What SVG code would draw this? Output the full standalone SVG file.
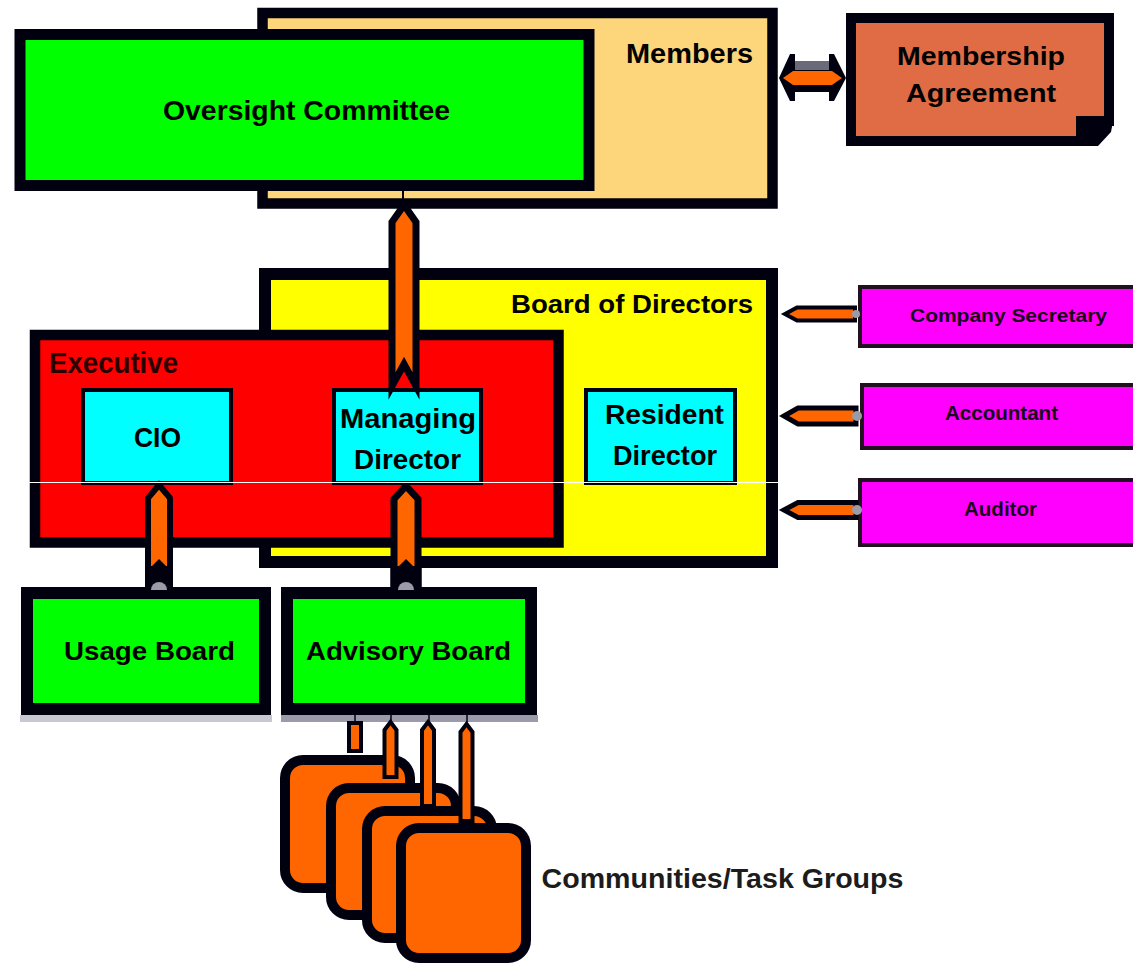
<svg xmlns="http://www.w3.org/2000/svg" width="1133" height="968" viewBox="0 0 1133 968">
<style>
  .bx { stroke: #00000f; stroke-linejoin: miter; }
  .t { font-family: 'Liberation Sans', Arial, sans-serif; font-weight: bold; fill: #000; }
  .arr { fill: #ff6600; stroke: #00000f; stroke-linejoin: miter; stroke-miterlimit: 10; }
  .knob { fill: #9a9aa8; }
  .blk { fill: #00000f; }
</style>
<rect x="0" y="0" width="1133" height="968" fill="#ffffff"/>

<g id="members">
  <rect class="bx" x="262.5" y="13" width="510" height="190.5" fill="#fdd57b" stroke-width="10.5"/>
  <text class="t" x="689.5" y="63" font-size="28" text-anchor="middle" textLength="127" lengthAdjust="spacingAndGlyphs">Members</text>
</g>

<g id="oversight">
  <rect class="bx" x="20" y="34.5" width="569" height="151" fill="#00ff00" stroke-width="11"/>
  <text class="t" x="306.5" y="120" font-size="28" text-anchor="middle" textLength="287" lengthAdjust="spacingAndGlyphs">Oversight Committee</text>
</g>

<g id="membership-agreement">
  <path class="bx" d="M851,18 H1109 V121 H1081 V141 H851 Z" fill="#e06c45" stroke-width="10"/>
  <path class="blk" d="M1078,116 H1114 L1111,132 L1098,146 H1078 Z"/>
  <text class="t" x="981" y="65" font-size="25" text-anchor="middle" textLength="168" lengthAdjust="spacingAndGlyphs">Membership</text>
  <text class="t" x="981" y="102" font-size="25" text-anchor="middle" textLength="150" lengthAdjust="spacingAndGlyphs">Agreement</text>
</g>

<g id="board">
  <rect class="bx" x="265" y="274" width="507" height="288" fill="#ffff00" stroke-width="12"/>
  <text class="t" x="632" y="313" font-size="25" text-anchor="middle" textLength="242" lengthAdjust="spacingAndGlyphs">Board of Directors</text>
</g>

<g id="executive">
  <rect class="bx" x="35" y="335" width="523.5" height="207.5" fill="#ff0000" stroke-width="10.5"/>
  <text class="t" x="49" y="373" font-size="29" fill="#2a0000" textLength="129" lengthAdjust="spacingAndGlyphs" style="fill:#2a0000">Executive</text>
</g>

<g id="cio">
  <rect class="bx" x="83" y="390" width="148" height="93" fill="#00ffff" stroke-width="4"/>
  <text class="t" x="157.5" y="447" font-size="28" text-anchor="middle" textLength="47" lengthAdjust="spacingAndGlyphs">CIO</text>
</g>

<g id="managing-director">
  <rect class="bx" x="334" y="390" width="147" height="93" fill="#00ffff" stroke-width="4"/>
  <text class="t" x="408" y="428" font-size="28" text-anchor="middle" textLength="136" lengthAdjust="spacingAndGlyphs">Managing</text>
  <text class="t" x="407.5" y="469" font-size="28" text-anchor="middle" textLength="107" lengthAdjust="spacingAndGlyphs">Director</text>
</g>

<g id="resident-director">
  <rect class="bx" x="586" y="390" width="149" height="93" fill="#00ffff" stroke-width="4"/>
  <text class="t" x="664.5" y="424" font-size="27" text-anchor="middle" textLength="119" lengthAdjust="spacingAndGlyphs">Resident</text>
  <text class="t" x="665" y="465" font-size="27" text-anchor="middle" textLength="104" lengthAdjust="spacingAndGlyphs">Director</text>
</g>

<g id="company-secretary">
  <rect class="bx" x="860" y="287" width="290" height="59" fill="#ff00ff" stroke-width="4" style="stroke:#201020"/>
  <text class="t" x="1008.5" y="322" font-size="18" text-anchor="middle" textLength="197" lengthAdjust="spacingAndGlyphs" style="fill:#1a001a">Company Secretary</text>
</g>

<g id="accountant">
  <rect class="bx" x="862" y="385" width="290" height="63" fill="#ff00ff" stroke-width="4" style="stroke:#201020"/>
  <text class="t" x="1001.5" y="420" font-size="21" text-anchor="middle" textLength="113" lengthAdjust="spacingAndGlyphs" style="fill:#1a001a">Accountant</text>
</g>

<g id="auditor">
  <rect class="bx" x="860" y="480" width="290" height="65" fill="#ff00ff" stroke-width="4" style="stroke:#201020"/>
  <text class="t" x="1000.5" y="516" font-size="21" text-anchor="middle" textLength="73" lengthAdjust="spacingAndGlyphs" style="fill:#1a001a">Auditor</text>
</g>

<g id="usage-board">
  <rect x="20" y="715" width="252" height="7" fill="#c8c8d2"/>
  <rect class="bx" x="27" y="593" width="238" height="116" fill="#00ff00" stroke-width="12"/>
  <text class="t" x="149.5" y="660" font-size="25" text-anchor="middle" textLength="171" lengthAdjust="spacingAndGlyphs">Usage Board</text>
</g>

<g id="advisory-board">
  <rect x="281" y="715" width="257" height="7" fill="#9a9aaa"/>
  <rect class="bx" x="287" y="593" width="244" height="116" fill="#00ff00" stroke-width="12"/>
  <text class="t" x="408.5" y="660" font-size="25" text-anchor="middle" textLength="205" lengthAdjust="spacingAndGlyphs">Advisory Board</text>
</g>

<g id="communities">
  <rect class="bx" x="285" y="760" width="125" height="128" rx="18" fill="#ff6600" stroke-width="10"/>
  <rect class="bx" x="331" y="788" width="125" height="127" rx="18" fill="#ff6600" stroke-width="10"/>
  <rect class="bx" x="367" y="811" width="125" height="127" rx="18" fill="#ff6600" stroke-width="10"/>
  <rect class="bx" x="401" y="828" width="125" height="130" rx="18" fill="#ff6600" stroke-width="10"/>
  <text class="t" x="541.5" y="888" font-size="28" textLength="362" lengthAdjust="spacingAndGlyphs" style="fill:#1c1c1c">Communities/Task Groups</text>
</g>

<g id="connectors">
  <!-- Members <-> Membership Agreement -->
  <path class="blk" d="M779,78 L790,54 L795,54 L795,61 L829,61 L829,54 L834,54 L846,78 L834,101 L829,101 L829,92 L795,92 L795,101 L790,101 Z"/>
  <rect x="795" y="61" width="34" height="9" fill="#6a6a78"/>
  <path d="M783,78 L793,71 L832,71 L842,78 L832,85 L793,85 Z" fill="#ff6600"/>

  <!-- Managing Director -> Oversight Committee -->
  <line x1="403" y1="191" x2="403" y2="206" stroke="#00000f" stroke-width="2"/>
  <path class="arr" d="M404,205 L416,222 L416,386 L404,364 L392,386 L392,222 Z" stroke-width="7"/>

  <!-- Usage Board -> CIO -->
  <path class="arr" d="M159,485 L170,498 L170,590 L148,590 L148,498 Z" stroke-width="6"/>
  <rect class="blk" x="145" y="566" width="28" height="24"/>
  <path class="blk" d="M151,567 L159,559 L167,567 Z"/>
  <path class="knob" d="M151,590 A8,8 0 0 1 167,590 Z"/>

  <!-- Advisory Board -> Managing Director -->
  <path class="arr" d="M406,486 L418,499 L418,590 L394,590 L394,499 Z" stroke-width="7"/>
  <rect class="blk" x="390.5" y="566" width="31" height="24"/>
  <path class="blk" d="M398,567 L406,559 L414,567 Z"/>
  <path class="knob" d="M398,590 A8,8 0 0 1 414,590 Z"/>

  <!-- Board -> Company Secretary / Accountant / Auditor -->
  <path class="arr" d="M785,314 L797,307.5 L855,307.5 L855,320.5 L797,320.5 Z" stroke-width="4"/>
  <circle class="knob" cx="856" cy="314" r="4"/>
  <path class="arr" d="M784,416 L798,408 L856,408 L856,424 L798,424 Z" stroke-width="5"/>
  <circle class="knob" cx="857" cy="416" r="5"/>
  <path class="arr" d="M784,510 L798,502.5 L856,502.5 L856,517.5 L798,517.5 Z" stroke-width="5"/>
  <circle class="knob" cx="857" cy="510" r="5"/>

  <!-- Communities -> Advisory Board -->
  <line x1="355" y1="715" x2="355" y2="723" stroke="#00000f" stroke-width="1.5"/>
  <line x1="391" y1="715" x2="391" y2="723" stroke="#00000f" stroke-width="1.5"/>
  <line x1="429" y1="715" x2="429" y2="723" stroke="#00000f" stroke-width="1.5"/>
  <line x1="467" y1="715" x2="467" y2="725" stroke="#00000f" stroke-width="1.5"/>
  <path class="arr" d="M349,723 L361,723 L361,751 L349,751 Z" stroke-width="4"/>
  <path class="arr" d="M390.5,722 L396.5,730 L396.5,777 L384.5,777 L384.5,730 Z" stroke-width="4"/>
  <path class="arr" d="M428,722 L434,730 L434,806 L422,806 L422,730 Z" stroke-width="4"/>
  <path class="arr" d="M466.5,724 L472.5,732 L472.5,821 L460.5,821 L460.5,732 Z" stroke-width="4"/>
</g>

<line x1="0" y1="482.5" x2="782" y2="482.5" stroke="#ffffff" stroke-width="1.2"/>
</svg>
